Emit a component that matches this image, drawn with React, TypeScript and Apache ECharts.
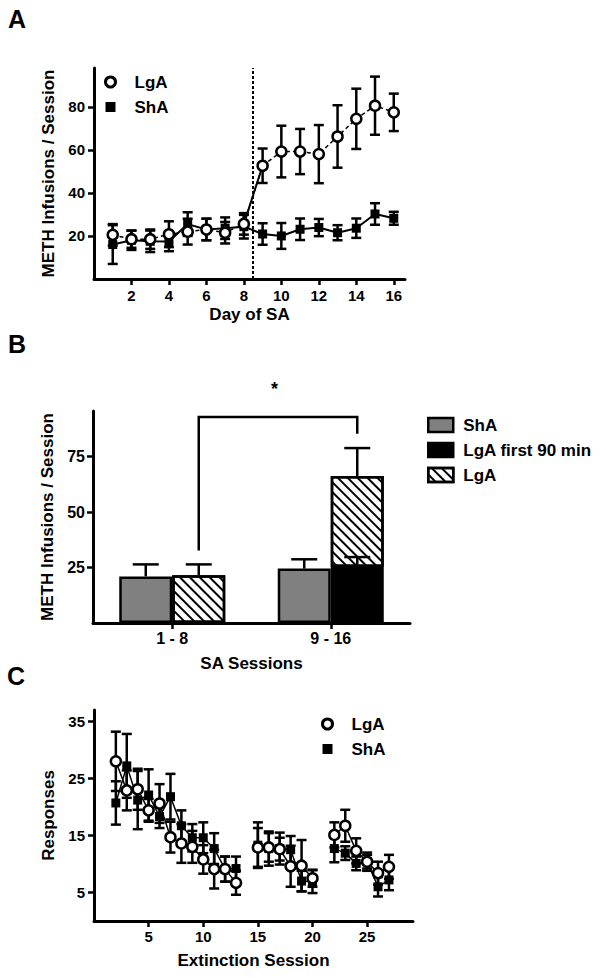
import React, { useEffect, useRef } from 'react';
import * as echarts from 'echarts';

const FONT = 'Liberation Sans, Arial, Helvetica, sans-serif';

// ---------- Panel A: METH infusions per day of SA ----------
const dayOfSA = [1, 2, 3, 4, 5, 6, 7, 8, 9, 10, 11, 12, 13, 14, 15, 16];
const lgaInfusions = [20.5, 18.5, 18.5, 20.8, 22, 23, 21.5, 25.6, 52.6, 59.2, 59.2, 58, 66.2, 74.4, 80.5, 77.4];
const lgaInfusionsSem = [5, 4, 4.5, 6, 6, 5, 5, 5, 8, 12, 10.5, 13.5, 14.5, 14, 13.5, 8.7];
const shaInfusions = [16, 18, 17.5, 17.4, 25.5, 23, 23.6, 24.3, 20.9, 20, 23.1, 23.9, 21.5, 23.6, 30.2, 28.2];
const shaInfusionsSem = [9, 4.5, 5, 4.5, 5.5, 5, 5, 5.5, 5, 6, 5, 4, 3.5, 4.5, 5, 3];
const phaseBoundary = 8.5;
const aYTicks = [20, 40, 60, 80];
const aXTicks = [2, 4, 6, 8, 10, 12, 14, 16];

// ---------- Panel B: mean infusions by phase ----------
const bCategories = ['1 - 8', '9 - 16'];
const bShA = [21, 24.5];
const bShASem = [5.4, 4.2];
const bLgA90: (number | null)[] = [null, 25.2];
const bLgA90Sem: (number | null)[] = [null, 4.5];
const bLgATotal = [21.5, 66.2];
const bLgATotalSem = [4.9, 12.6];
const bYTicks = [25, 50, 75];
const bracketLevels = [32.7, 92.8, 85.3];
const starLevel = 105.3;

// ---------- Panel C: extinction responses ----------
const extSession = [2, 3, 4, 5, 6, 7, 8, 9, 10, 11, 12, 13, 15, 16, 17, 18, 19, 20, 22, 23, 24, 25, 26, 27];
const cLgA = [28.0, 22.9, 23.1, 19.4, 20.6, 14.7, 13.6, 13.0, 10.8, 9.1, 9.1, 6.7, 12.9, 12.9, 12.6, 9.6, 9.7, 7.5, 15.1, 16.7, 12.3, 10.4, 8.4, 9.5];
const cLgASem = [5.2, 3.5, 3.6, 2.0, 3.4, 2.7, 3.4, 2.8, 2.5, 3.4, 2.2, 2.1, 3.4, 2.5, 2.0, 3.6, 4.5, 1.5, 2.2, 2.8, 2.2, 1.6, 2.0, 2.1];
const cShA = [20.7, 27.2, 21.2, 22.1, 18.3, 21.8, 16.7, 14.6, 14.6, 12.7, 9.1, 9.2, 13.3, 12.7, 12.7, 12.5, 7.0, 6.9, 12.7, 11.9, 10.1, 10.4, 6.0, 7.2];
const cShASem = [3.8, 5.6, 5.1, 4.5, 2.0, 4.0, 2.7, 2.4, 2.7, 2.7, 2.2, 2.1, 4.0, 3.0, 2.8, 2.4, 1.8, 2.0, 2.4, 1.2, 1.2, 1.2, 1.7, 1.8];
const cYTicks = [5, 15, 25, 35];
const cXTicks = [5, 10, 15, 20, 25];

const legendNames: Record<string, string> = {
  A_LgA: 'LgA',
  A_ShA: 'ShA',
  B_ShA: 'ShA',
  B_LgA90: 'LgA first 90 min',
  B_LgA: 'LgA',
  C_LgA: 'LgA',
  C_ShA: 'ShA',
};

const txt = (size: number) => ({ color: '#000', fontWeight: 'bold' as const, fontFamily: FONT, fontSize: size });

const axisLine = { show: true, onZero: false, lineStyle: { color: '#000', width: 3 } };
const axisTick = (vals?: number[]) => ({
  show: true,
  length: 6,
  lineStyle: { color: '#000', width: 2.5 },
  ...(vals ? { customValues: vals } : {}),
});

const errRender = (capHalf: number, lw: number, offset = 0, upOnly = false) => (_p: any, api: any) => {
  const x = api.value(0);
  const y = api.value(1);
  const e = api.value(2);
  if (isNaN(y) || isNaN(e)) return null;
  const t = api.coord([x, y + e]);
  const b = api.coord([x, upOnly ? y : y - e]);
  const cx = t[0] + offset;
  const st = { stroke: '#000', lineWidth: lw };
  const children: any[] = [
    { type: 'line', shape: { x1: cx, y1: t[1], x2: cx, y2: b[1] }, style: st },
    { type: 'line', shape: { x1: cx - capHalf, y1: t[1], x2: cx + capHalf, y2: t[1] }, style: st },
  ];
  if (!upOnly) {
    children.push({ type: 'line', shape: { x1: cx - capHalf, y1: b[1], x2: cx + capHalf, y2: b[1] }, style: st });
  }
  return { type: 'group', children };
};

const withGaps = (xs: number[], ys: number[]) => {
  const out: any[] = [];
  xs.forEach((x, i) => {
    out.push([x, ys[i]]);
    if (i < xs.length - 1 && xs[i + 1] - x > 1) out.push([x + 1, '-']);
  });
  return out;
};

const sqIcon = 'path://M0 0H10V10H0Z';
const boxIcon = 'path://M0 0H25V14H0Z';

const hatch = {
  symbol: 'rect',
  symbolSize: 1,
  dashArrayX: [1, 0],
  dashArrayY: [2, 5],
  rotation: Math.PI / 4,
  color: '#000',
  backgroundColor: '#fff',
};

function buildOption(): any {
  const BAR_W = 53;
  return {
    animation: false,
    backgroundColor: '#fff',
    textStyle: { fontFamily: FONT },
    graphic: [
      { type: 'text', x: 8, y: 19, style: { text: 'A', font: `bold 25px ${FONT}`, fill: '#000', verticalAlign: 'middle' } },
      { type: 'text', x: 8, y: 344, style: { text: 'B', font: `bold 25px ${FONT}`, fill: '#000', verticalAlign: 'middle' } },
      { type: 'text', x: 7, y: 676, style: { text: 'C', font: `bold 25px ${FONT}`, fill: '#000', verticalAlign: 'middle' } },
    ],
    legend: [
      {
        left: 104, top: 73, padding: 0, orient: 'vertical', itemWidth: 38, itemHeight: 10, itemGap: 7, selectedMode: false,
        data: [
          { name: 'A_LgA', icon: 'circle', itemStyle: { color: '#fff', borderColor: '#000', borderWidth: 3 } },
          { name: 'A_ShA', icon: sqIcon, itemStyle: { color: '#000', borderWidth: 0 } },
        ],
        formatter: (n: string) => legendNames[n],
        textStyle: { ...txt(17), lineHeight: 18 },
      },
      {
        left: 427, top: 416, padding: 0, orient: 'vertical', itemWidth: 35, itemHeight: 14, itemGap: 7, selectedMode: false,
        data: [
          { name: 'B_ShA', icon: boxIcon },
          { name: 'B_LgA90', icon: boxIcon },
          { name: 'B_LgA', icon: boxIcon },
        ],
        itemStyle: { borderColor: '#000', borderWidth: 2.5 },
        formatter: (n: string) => legendNames[n],
        textStyle: { ...txt(17), lineHeight: 18 },
      },
      {
        left: 321, top: 715, padding: 0, orient: 'vertical', itemWidth: 38, itemHeight: 10, itemGap: 7, selectedMode: false,
        data: [
          { name: 'C_LgA', icon: 'circle', itemStyle: { color: '#fff', borderColor: '#000', borderWidth: 3 } },
          { name: 'C_ShA', icon: sqIcon, itemStyle: { color: '#000', borderWidth: 0 } },
        ],
        formatter: (n: string) => legendNames[n],
        textStyle: { ...txt(17), lineHeight: 18 },
      },
    ],
    grid: [
      { left: 94, top: 68, width: 311, height: 211 },
      { left: 93, top: 411, width: 317, height: 212 },
      { left: 94, top: 710, width: 319, height: 211 },
    ],
    xAxis: [
      {
        gridIndex: 0, type: 'value', min: 0, max: 16.6,
        axisLine, axisTick: axisTick(aXTicks), splitLine: { show: false },
        axisLabel: { ...txt(15), margin: 9, customValues: aXTicks },
        name: 'Day of SA', nameLocation: 'middle', nameGap: 27, nameTextStyle: txt(17),
      },
      {
        gridIndex: 1, type: 'category', data: bCategories, boundaryGap: true,
        axisLine, axisTick: { ...axisTick(), alignWithLabel: true }, splitLine: { show: false },
        axisLabel: { ...txt(16), margin: 7 },
        name: 'SA Sessions', nameLocation: 'middle', nameGap: 32, nameTextStyle: txt(17),
      },
      {
        gridIndex: 2, type: 'value', min: 0, max: 29.2,
        axisLine, axisTick: axisTick(cXTicks), splitLine: { show: false },
        axisLabel: { ...txt(15), margin: 8, customValues: cXTicks },
        name: 'Extinction Session', nameLocation: 'middle', nameGap: 31, nameTextStyle: txt(17),
      },
    ],
    yAxis: [
      {
        gridIndex: 0, type: 'value', min: 0, max: 98,
        axisLine, axisTick: axisTick(aYTicks), splitLine: { show: false },
        axisLabel: { ...txt(15), margin: 9, customValues: aYTicks },
        name: 'METH Infusions / Session', nameLocation: 'middle', nameGap: 32, nameTextStyle: txt(17),
      },
      {
        gridIndex: 1, type: 'value', min: 0, max: 95.5,
        axisLine, axisTick: axisTick(bYTicks), splitLine: { show: false },
        axisLabel: { ...txt(16), margin: 8, customValues: bYTicks },
        name: 'METH Infusions / Session', nameLocation: 'middle', nameGap: 30, nameTextStyle: txt(17),
      },
      {
        gridIndex: 2, type: 'value', min: 0, max: 37,
        axisLine, axisTick: axisTick(cYTicks), splitLine: { show: false },
        axisLabel: { ...txt(15), margin: 9, customValues: cYTicks },
        name: 'Responses', nameLocation: 'middle', nameGap: 32, nameTextStyle: txt(17),
      },
    ],
    series: [
      // ---- Panel A ----
      {
        type: 'custom', name: 'errA_ShA', xAxisIndex: 0, yAxisIndex: 0, z: 2,
        data: dayOfSA.map((d, i) => [d, shaInfusions[i], shaInfusionsSem[i]]),
        renderItem: errRender(5, 2.5),
      },
      {
        type: 'custom', name: 'errA_LgA', xAxisIndex: 0, yAxisIndex: 0, z: 2,
        data: dayOfSA.map((d, i) => [d, lgaInfusions[i], lgaInfusionsSem[i]]),
        renderItem: errRender(5, 2.5),
      },
      {
        type: 'line', name: 'A_ShA', xAxisIndex: 0, yAxisIndex: 0, z: 3,
        data: dayOfSA.map((d, i) => [d, shaInfusions[i]]),
        symbol: 'rect', symbolSize: 9,
        itemStyle: { color: '#000' }, lineStyle: { color: '#000', width: 2 },
      },
      {
        type: 'line', name: 'A_LgA_link', xAxisIndex: 0, yAxisIndex: 0, z: 3,
        data: [[dayOfSA[7], lgaInfusions[7]], [dayOfSA[8], lgaInfusions[8]]],
        symbol: 'none', lineStyle: { color: '#000', width: 2 },
      },
      {
        type: 'line', name: 'A_LgA', xAxisIndex: 0, yAxisIndex: 0, z: 4,
        data: dayOfSA.map((d, i) => [d, lgaInfusions[i]]),
        symbol: 'circle', symbolSize: 10,
        itemStyle: { color: '#fff', borderColor: '#000', borderWidth: 2.5 },
        lineStyle: { color: '#000', width: 1.5, type: [4, 3] },
        markLine: {
          silent: true, symbol: ['none', 'none'], label: { show: false },
          lineStyle: { color: '#000', width: 2, type: [3, 2] },
          data: [{ xAxis: phaseBoundary }],
        },
      },
      // ---- Panel B ----
      {
        type: 'bar', name: 'B_ShA', xAxisIndex: 1, yAxisIndex: 1, barWidth: BAR_W, barGap: '0%',
        data: bShA,
        itemStyle: { color: '#808080', borderColor: '#000', borderWidth: 2.5 },
      },
      {
        type: 'bar', name: 'B_LgA90', xAxisIndex: 1, yAxisIndex: 1, barWidth: BAR_W, stack: 'lga',
        data: bLgA90.map((v) => (v == null ? '-' : v)),
        itemStyle: { color: '#000', borderColor: '#000', borderWidth: 2.5 },
      },
      {
        type: 'bar', name: 'B_LgA', xAxisIndex: 1, yAxisIndex: 1, barWidth: BAR_W, stack: 'lga',
        data: bLgATotal.map((v, i) => v - (bLgA90[i] ?? 0)),
        itemStyle: { color: '#fff', borderColor: '#000', borderWidth: 2.5, decal: hatch },
      },
      {
        type: 'custom', name: 'errB_ShA', xAxisIndex: 1, yAxisIndex: 1, z: 5,
        data: bShA.map((v, i) => [i, v, bShASem[i]]),
        renderItem: errRender(13, 2.5, -BAR_W / 2, true),
      },
      {
        type: 'custom', name: 'errB_LgA', xAxisIndex: 1, yAxisIndex: 1, z: 5,
        data: bLgATotal.map((v, i) => [i, v, bLgATotalSem[i]]),
        renderItem: errRender(13, 2.5, BAR_W / 2, true),
      },
      {
        type: 'custom', name: 'errB_LgA90', xAxisIndex: 1, yAxisIndex: 1, z: 5,
        data: bLgA90.map((v, i) => [i, v, bLgA90Sem[i]]).filter((d) => d[1] != null),
        renderItem: errRender(13, 2.5, BAR_W / 2, true),
      },
      {
        type: 'custom', name: 'bracketB', xAxisIndex: 1, yAxisIndex: 1, z: 5, clip: false,
        data: [[0, 1]],
        renderItem: (_p: any, api: any) => {
          const lx = api.coord([0, bracketLevels[0]])[0] + BAR_W / 2;
          const rx = api.coord([1, bracketLevels[2]])[0] + BAR_W / 2;
          const y0 = api.coord([0, bracketLevels[0]])[1];
          const y1 = api.coord([0, bracketLevels[1]])[1];
          const y2 = api.coord([1, bracketLevels[2]])[1];
          const ys = api.coord([0, starLevel])[1];
          return {
            type: 'group',
            children: [
              {
                type: 'polyline',
                shape: { points: [[lx, y0], [lx, y1], [rx, y1], [rx, y2]] },
                style: { stroke: '#000', lineWidth: 2.5, fill: 'none' },
              },
              {
                type: 'text',
                x: (lx + rx) / 2 - 3.5,
                y: ys,
                style: { text: '*', font: `bold 18px ${FONT}`, fill: '#000', align: 'center', verticalAlign: 'middle' },
              },
            ],
          };
        },
      },
      // ---- Panel C ----
      {
        type: 'custom', name: 'errC_ShA', xAxisIndex: 2, yAxisIndex: 2, z: 2,
        data: extSession.map((s, i) => [s, cShA[i], cShASem[i]]),
        renderItem: errRender(5, 2.5),
      },
      {
        type: 'custom', name: 'errC_LgA', xAxisIndex: 2, yAxisIndex: 2, z: 2,
        data: extSession.map((s, i) => [s, cLgA[i], cLgASem[i]]),
        renderItem: errRender(5, 2.5),
      },
      {
        type: 'line', name: 'C_ShA', xAxisIndex: 2, yAxisIndex: 2, z: 3, connectNulls: false,
        data: withGaps(extSession, cShA),
        symbol: 'rect', symbolSize: 9,
        itemStyle: { color: '#000' }, lineStyle: { color: '#000', width: 1.5 },
      },
      {
        type: 'line', name: 'C_LgA', xAxisIndex: 2, yAxisIndex: 2, z: 4, connectNulls: false,
        data: withGaps(extSession, cLgA),
        symbol: 'circle', symbolSize: 10,
        itemStyle: { color: '#fff', borderColor: '#000', borderWidth: 2.5 },
        lineStyle: { color: '#000', width: 1.5 },
      },
    ],
  };
}

export default function App() {
  const ref = useRef<HTMLDivElement>(null);
  useEffect(() => {
    if (!ref.current) return;
    const chart = echarts.init(ref.current, undefined, { renderer: 'svg' });
    chart.setOption(buildOption());
    return () => chart.dispose();
  }, []);
  return (
    <div
      ref={ref}
      style={{ position: 'absolute', left: 0, top: 0, width: 604, height: 978, background: '#fff' }}
    />
  );
}
